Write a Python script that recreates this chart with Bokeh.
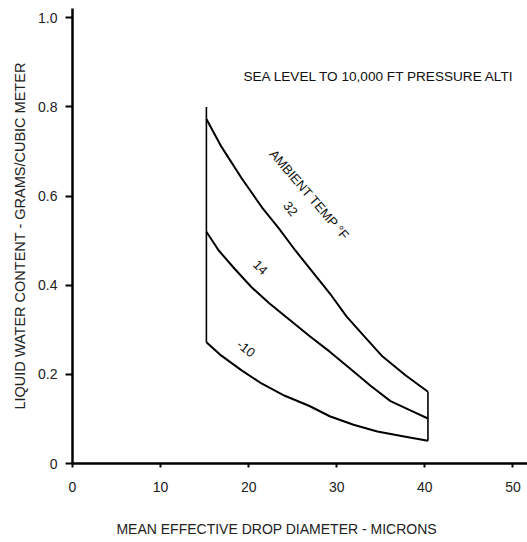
from bokeh.plotting import figure
from bokeh.models import Range1d, FixedTicker, CustomJSTickFormatter
from bokeh.core.properties import value
from bokeh.embed import file_html
from bokeh.resources import INLINE

# ---- data ----
x_ticks = [0, 10, 20, 30, 40, 50]
y_ticks = [0, 0.2, 0.4, 0.6, 0.8, 1.0]

# ambient temp 32 F
x_32 = [15.2, 16.9, 19.2, 21.5, 23.4, 25.3, 27.2, 29.2, 31.1, 33.1, 35.1, 37.8, 40.35]
y_32 = [0.773, 0.711, 0.64, 0.575, 0.528, 0.478, 0.431, 0.382, 0.33, 0.286, 0.242, 0.198, 0.161]

# ambient temp 14 F
x_14 = [15.2, 16.6, 18.4, 20.3, 22.3, 24.6, 26.9, 29.2, 31.5, 33.8, 36.1, 38.6, 40.35]
y_14 = [0.52, 0.478, 0.437, 0.396, 0.36, 0.323, 0.286, 0.251, 0.213, 0.175, 0.14, 0.117, 0.101]

# ambient temp -10 F
x_m10 = [15.2, 16.9, 19.2, 21.5, 24.1, 26.9, 29.2, 31.9, 34.6, 37.8, 40.35]
y_m10 = [0.272, 0.242, 0.209, 0.179, 0.152, 0.129, 0.106, 0.087, 0.072, 0.06, 0.051]

left_bound_x = [15.2, 15.2]
left_bound_y = [0.272, 0.80]
right_bound_x = [40.35, 40.35]
right_bound_y = [0.051, 0.161]

curve_labels = ["32", "14", "-10"]
title_text = "SEA LEVEL TO 10,000 FT PRESSURE ALTI"
temp_text = "AMBIENT TEMP \u00b0F"
x_label = "MEAN EFFECTIVE DROP DIAMETER - MICRONS"
y_label = "LIQUID WATER CONTENT - GRAMS/CUBIC METER"

FONT = "Liberation Sans"

p = figure(width=527, height=542, output_backend="svg", toolbar_location=None,
           x_range=Range1d(0, 51.65), y_range=Range1d(0, 1.021),
           min_border_left=72, min_border_right=0, min_border_top=8, min_border_bottom=79)
p.outline_line_color = None
p.xgrid.visible = False
p.ygrid.visible = False
p.background_fill_color = "white"
p.border_fill_color = "white"

for ax in (p.xaxis[0], p.yaxis[0]):
    ax.axis_line_width = 2.5
    ax.axis_line_color = "black"
    ax.major_tick_line_width = 2
    ax.major_tick_line_color = "black"
    ax.major_tick_in = 0
    ax.minor_tick_line_color = None
    ax.major_label_text_font = FONT
    ax.major_label_text_font_size = "14px"
    ax.major_label_text_color = "#222222"
    ax.axis_label_text_font = FONT
    ax.axis_label_text_font_size = "14.5px"
    ax.axis_label_text_font_style = "normal"
    ax.axis_label_text_color = "#222222"

p.xaxis.ticker = FixedTicker(ticks=x_ticks)
p.yaxis.ticker = FixedTicker(ticks=y_ticks)
p.yaxis.formatter = CustomJSTickFormatter(code="return tick == 0 ? '0' : tick.toFixed(1);")
p.xaxis.major_tick_out = 4
p.xaxis.major_label_standoff = 14
p.yaxis.major_tick_out = 7
p.yaxis.major_label_standoff = 8
p.yaxis.axis_label = y_label
p.yaxis.axis_label_standoff = 7

# x-axis title: the reference sets it left of the frame centre, so pad it on the right
p.xaxis.axis_label = x_label + "\u00a0" * 12
p.xaxis.axis_label_text_font_size = "14px"
p.xaxis.axis_label_standoff = 26

# curves
for xs, ys in ((x_32, y_32), (x_14, y_14), (x_m10, y_m10)):
    p.line(xs, ys, line_color="black", line_width=2, line_join="round")
p.line(left_bound_x, left_bound_y, line_color="black", line_width=1.6)
p.line(right_bound_x, right_bound_y, line_color="black", line_width=1.6)

# annotations
p.text(x=[19.41], y=[0.8685], text=[title_text], text_font=value(FONT),
       text_font_size="13.6px", text_baseline="middle", text_align="left", text_color="#111111")
p.text(x=[26.9], y=[0.603], text=[temp_text], text_font=value(FONT),
       text_font_size="13px", text_baseline="middle", text_align="center",
       angle=-0.86, text_color="#111111")
p.text(x=[24.74, 21.34, 19.7], y=[0.572, 0.44, 0.258], text=curve_labels,
       text_font=value(FONT), text_font_size="13px", text_baseline="middle",
       text_align="center", angle=[-0.9, -0.78, -0.66], text_color="#111111")

open("out.html", "w").write(file_html(p, INLINE))
